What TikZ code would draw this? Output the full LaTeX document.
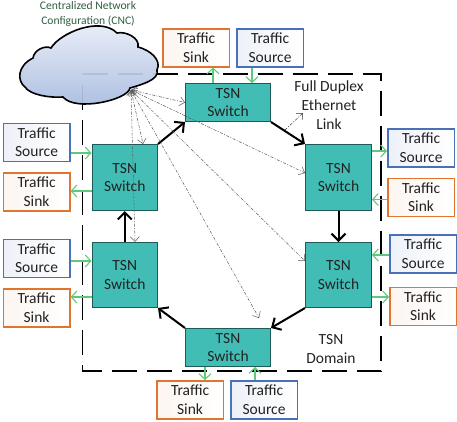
\documentclass[tikz,border=0pt]{standalone}
\usepackage{fontspec}
\setmainfont{Carlito}
\usetikzlibrary{arrows.meta,calc,shadings}
\definecolor{teal1}{HTML}{41BDB5}
\definecolor{tealb}{HTML}{1F5A56}
\definecolor{srcb}{HTML}{4A70B8}
\definecolor{snkb}{HTML}{E0752F}
\definecolor{grn}{HTML}{5FC87A}
\definecolor{txt}{HTML}{222222}
\definecolor{cloudt}{HTML}{EDF1F9}
\definecolor{cloudb}{HTML}{A3B7DE}
\definecolor{cnctxt}{HTML}{2F5F3F}
\tikzset{
  x=1pt,y=-1pt,
  swbox/.style={draw=tealb,line width=1pt,fill=teal1,font=\fontsize{15.5}{18.7}\selectfont,text=txt,align=center,inner sep=0pt,anchor=north west},
  srcbox/.style={draw=srcb,line width=1.6pt,left color=srcb!10,right color=white,font=\fontsize{15.5}{18.7}\selectfont,text=txt,align=center,inner sep=0pt,anchor=north west,minimum width=66.5pt,minimum height=38pt},
  snkbox/.style={draw=snkb,line width=1.6pt,left color=snkb!7,right color=white,font=\fontsize{15.5}{18.7}\selectfont,text=txt,align=center,inner sep=0pt,anchor=north west,minimum width=66.5pt,minimum height=38pt},
  lbl/.style={font=\fontsize{15.5}{18.7}\selectfont,text=txt,align=center,inner sep=0pt},
  ring/.style={line width=2pt,black,-{Straight Barb[length=7pt,width=14pt,line width=2pt]}},
  gline/.style={line width=1.1pt,grn,-{Straight Barb[length=5.5pt,width=12pt,line width=1.1pt]}},
  ctl/.style={line width=0.5pt,black!65,dash pattern=on 3pt off 1.5pt on 1pt off 1.5pt,{Straight Barb[length=5pt,width=9pt,line width=0.5pt]}-{Straight Barb[length=5pt,width=9pt,line width=0.5pt]}},
  domainline/.style={line width=1.6pt,black,dash pattern=on 25pt off 10pt},
  cloudshape/.style={draw=black,line width=1.6pt,top color=cloudt,bottom color=cloudb,fill opacity=0.93},
}
\begin{document}
\begin{tikzpicture}
\useasboundingbox (0,0) rectangle (457,421);
% domain
\draw[domainline] (82.5,74) -- (381,74) -- (381,371) -- (82.5,371) -- cycle;
% cloud
\draw[cloudshape]
 (25,87) .. controls (17,81) and (17,66) .. (33,58)
 .. controls (34,50) and (45,45) .. (51,48)
 .. controls (60,33) and (100,16) .. (117,33)
 .. controls (126,31) and (140,38) .. (138,47)
 .. controls (150,50) and (162,60) .. (157,70)
 .. controls (160,80) and (140,85) .. (130,88)
 .. controls (128,100) and (75,112) .. (63,97)
 .. controls (50,98) and (30,95) .. (25,87) -- cycle;
\coordinate (cl) at (131,90);
\node[font=\fontsize{11.6}{15.5}\selectfont,text=cnctxt,align=center,inner sep=0pt] (cnc) at (88,14) {Centralized Network\\Configuration (CNC)};
% switches
\node[swbox,minimum width=85pt,minimum height=38pt] (swT) at (185,83) {TSN\\Switch};
\node[swbox,minimum width=85pt,minimum height=38pt] (swB) at (185,328) {TSN\\Switch};
\node[swbox,minimum width=65.5pt,minimum height=66pt] (swLT) at (91.5,144) {TSN\\Switch};
\node[swbox,minimum width=65.5pt,minimum height=65pt] (swLB) at (91.5,242) {TSN\\Switch};
\node[swbox,minimum width=66pt,minimum height=66pt] (swRT) at (305,144) {TSN\\Switch};
\node[swbox,minimum width=66pt,minimum height=65pt] (swRB) at (305,242) {TSN\\Switch};
% end stations
\node[snkbox] (snkT) at (162,28) {Traffic\\Sink};
\node[srcbox] (srcT) at (236,28) {Traffic\\Source};
\node[srcbox] (srcL1) at (2.5,122.5) {Traffic\\Source};
\node[snkbox] (snkL1) at (2.5,172) {Traffic\\Sink};
\node[srcbox] (srcL2) at (2.5,238.5) {Traffic\\Source};
\node[snkbox] (snkL2) at (2.5,288) {Traffic\\Sink};
\node[snkbox] (snkB) at (156,380) {Traffic\\Sink};
\node[srcbox] (srcB) at (230,380) {Traffic\\Source};
\node[srcbox] (srcR1) at (387,128) {Traffic\\Source};
\node[snkbox] (snkR1) at (387,177.5) {Traffic\\Sink};
\node[srcbox] (srcR2) at (389,234) {Traffic\\Source};
\node[snkbox] (snkR2) at (389,286.5) {Traffic\\Sink};
% labels
\node[lbl] (lnk) at (329,105) {Full Duplex\\Ethernet\\Link};
\node[lbl] (dom) at (331,349) {TSN\\Domain};
% ring
\draw[ring] (swLT.north east) -- (swT.south west);
\draw[ring] (swT.south east) -- (swRT.north west);
\draw[ring] (swRT.south) -- (swRB.north);
\draw[ring] (swRB.south west) -- (swB.north east);
\draw[ring] (swB.north west) -- (swLB.south east);
\draw[ring] (swLB.north) -- (swLT.south);
% control links
\draw[ctl] (cl) -- (swT.west);
\draw[ctl] (cl) -- (swLT.north -| 143,0);
\draw[ctl] (cl) -- (swLB.north -| 135,0);
\draw[ctl] (cl) -- (swRT.west |- 0,173);
\draw[ctl] (cl) -- (swRB.west |- 0,261);
\draw[ctl] (cl) -- (259,318);
\coordinate (lnkS) at (285,130);
\coordinate (lnkE) at (303,113);
\draw[line width=0.5pt,black!80,dash pattern=on 3pt off 1.5pt on 1pt off 1.5pt,-{Straight Barb[length=5pt,width=9pt,line width=0.5pt]}] (lnkS) -- (lnkE);
% green links
\draw[gline] (swT.north -| 213,0) -- (snkT.south -| 213,0);
\draw[gline] (srcT.south -| 252,0) -- (swT.north -| 252,0);
\draw[gline] (srcL1.east |- 0,153) -- (swLT.west |- 0,153);
\draw[gline] (swLT.west |- 0,191) -- (snkL1.east |- 0,191);
\draw[gline] (srcL2.east |- 0,261) -- (swLB.west |- 0,261);
\draw[gline] (swLB.west |- 0,297) -- (snkL2.east |- 0,297);
\draw[gline] (swB.south -| 205,0) -- (snkB.north -| 205,0);
\draw[gline] (srcB.north -| 255,0) -- (swB.south -| 255,0);
\draw[gline] (swRT.east |- 0,151) -- (srcR1.west |- 0,151);
\draw[gline] (snkR1.west |- 0,199.5) -- (swRT.east |- 0,199.5);
\draw[gline] (srcR2.west |- 0,255) -- (swRB.east |- 0,255);
\draw[gline] (swRB.east |- 0,297) -- (snkR2.west |- 0,297);
\end{tikzpicture}
\end{document}
